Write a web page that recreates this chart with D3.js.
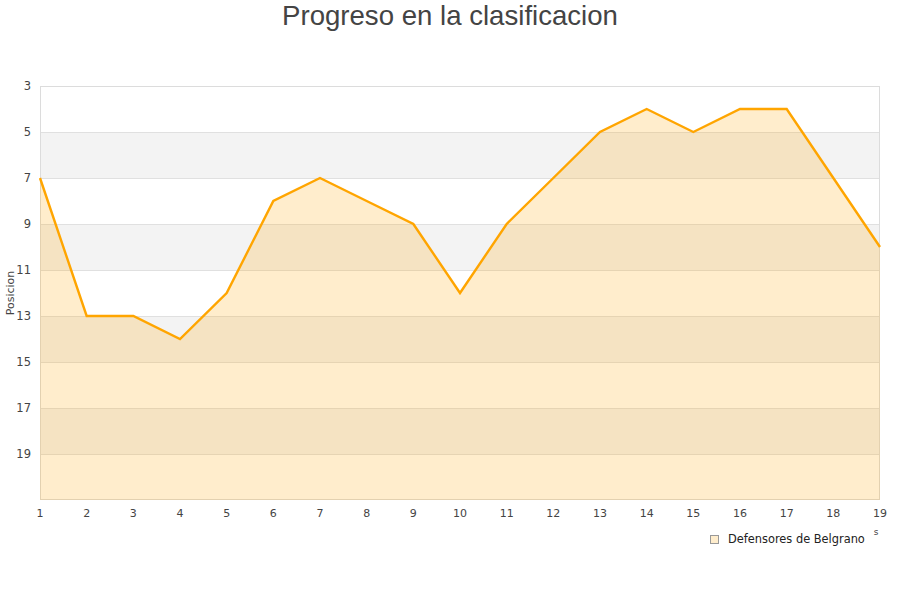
<!DOCTYPE html>
<html><head><meta charset="utf-8">
<script src="https://cdn.jsdelivr.net/npm/d3@7/dist/d3.min.js"></script>
<style>body{margin:0;background:#fff}</style>
</head><body>
<svg id="c" width="900" height="600"></svg>
<script>
const jornadas = [1,2,3,4,5,6,7,8,9,10,11,12,13,14,15,16,17,18,19];
const posiciones = [7,13,13,14,12,8,7,8,9,12,9,7,5,4,5,4,4,7,10];
const yTicks = [3,5,7,9,11,13,15,17,19];
const bandStarts = [5,9,13,17];
const seriesName = "Defensores de Belgrano";
const titleText = "Progreso en la clasificacion";
const yTitle = "Posicion";

const svg = d3.select("#c");
const L=40,R=880,T=86,B=500;
const x = d3.scaleLinear().domain([1,19]).range([L,R]);
const y = d3.scaleLinear().domain([3,21]).range([T,B]);
const font = "'DejaVu Sans', sans-serif";

svg.append("text").attr("x",450).attr("y",25).attr("text-anchor","middle")
  .attr("font-family","'Liberation Sans', Arial, sans-serif").attr("font-size",27.6).attr("fill","#444").text(titleText);

svg.selectAll("rect.band").data(bandStarts).join("rect")
  .attr("x",L).attr("width",R-L).attr("y",d=>y(d)).attr("height",d=>y(d+2)-y(d)).attr("fill","#f3f3f3");
svg.selectAll("line.grid").data(yTicks).join("line")
  .attr("x1",L).attr("x2",R).attr("y1",d=>y(d)+0.5).attr("y2",d=>y(d)+0.5).attr("stroke","#e0e0e0");
svg.append("rect").attr("x",L+0.5).attr("y",T+0.5).attr("width",R-L-1).attr("height",B-T-1)
  .attr("fill","none").attr("stroke","#dcdcdc");

const pts = jornadas.map((j,i)=>[j,posiciones[i]]);
svg.append("path").datum(pts)
  .attr("d",d3.area().x(d=>x(d[0])).y0(y(21)).y1(d=>y(d[1])))
  .attr("fill","rgba(255,165,0,0.2)");
svg.append("path").datum(pts)
  .attr("d",d3.line().x(d=>x(d[0])).y(d=>y(d[1])))
  .attr("fill","none").attr("stroke","#ffa500").attr("stroke-width",2.4);

svg.selectAll("text.yt").data(yTicks).join("text")
  .attr("x",31).attr("y",d=>y(d)+4).attr("text-anchor","end")
  .attr("font-family",font).attr("font-size",11.5).attr("fill","#444").text(d=>d);
svg.selectAll("text.xt").data(jornadas).join("text")
  .attr("x",d=>x(d)).attr("y",517).attr("text-anchor","middle")
  .attr("font-family",font).attr("font-size",11).attr("fill","#444").text(d=>d);

svg.append("text").attr("transform","translate(14,293) rotate(-90)").attr("text-anchor","middle")
  .attr("font-family",font).attr("font-size",11).attr("fill","#444").text(yTitle);

svg.append("text").attr("x",876).attr("y",535).attr("text-anchor","middle")
  .attr("font-family",font).attr("font-size",9).attr("fill","#444").text("s");

svg.append("rect").attr("x",710.5).attr("y",535.5).attr("width",8).attr("height",8)
  .attr("fill","#ffedcc").attr("stroke","#999");
svg.append("text").attr("x",728).attr("y",543).attr("font-family",font).attr("font-size",11.4)
  .attr("fill","#222").text(seriesName);
</script>
</body></html>
